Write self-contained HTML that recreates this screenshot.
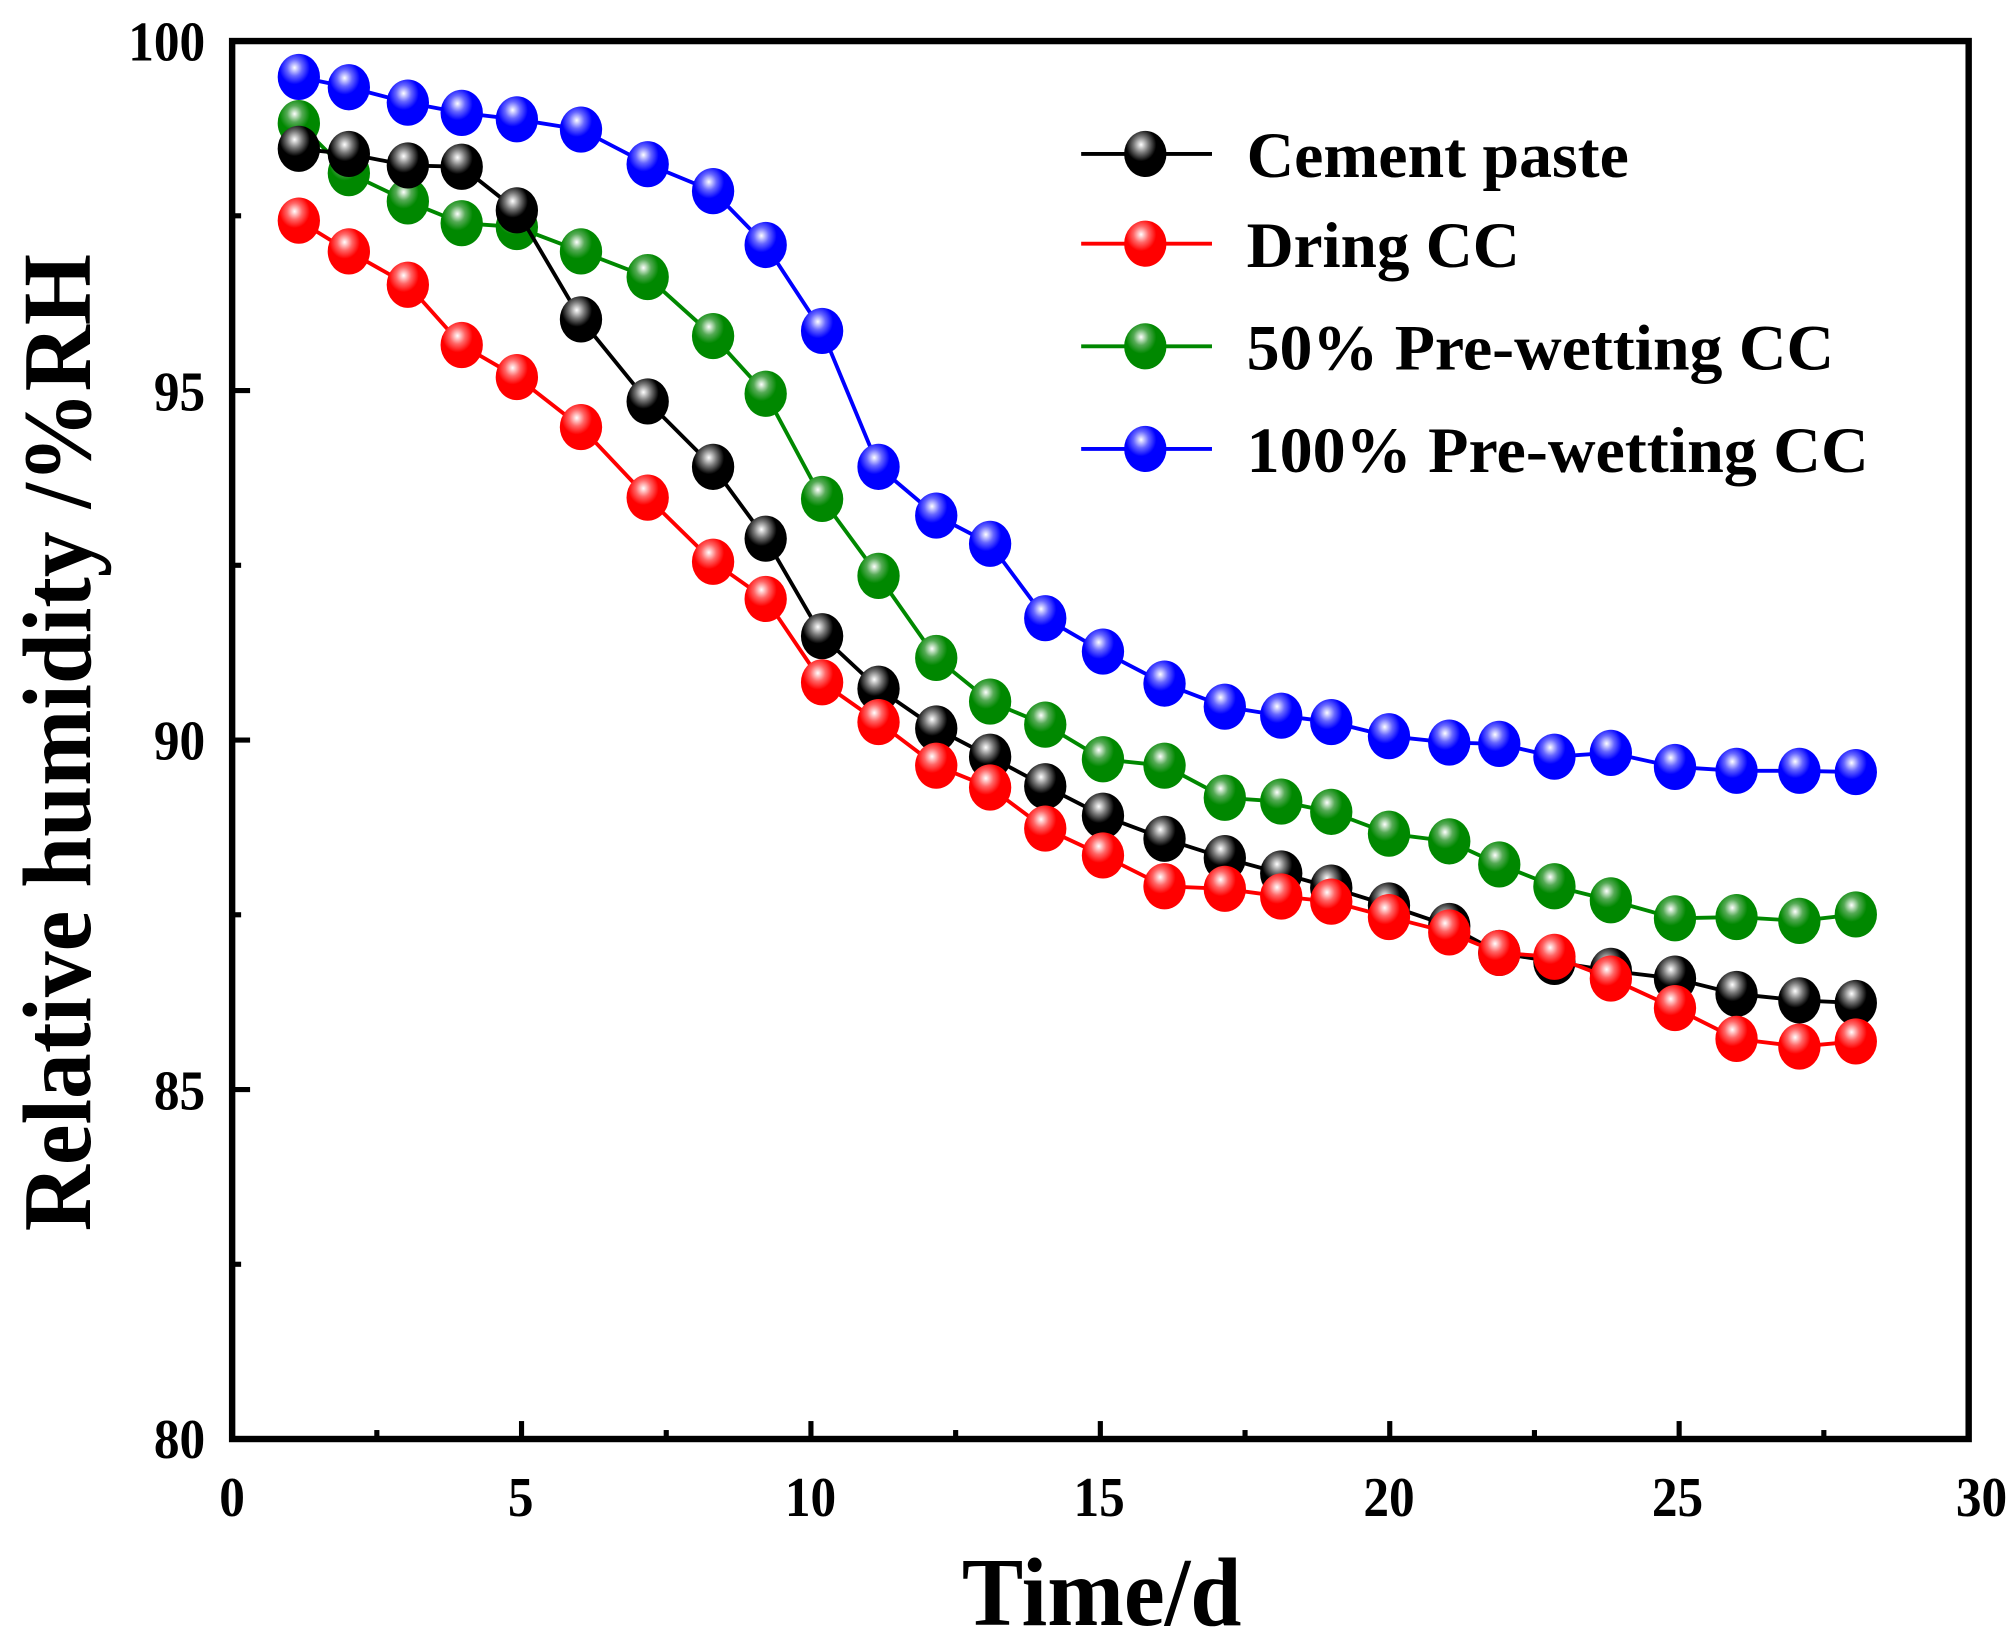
<!DOCTYPE html>
<html><head><meta charset="utf-8"><style>
html,body{margin:0;padding:0;background:#fff;}
svg{display:block;}
text{font-family:"Liberation Serif","Times New Roman",serif;font-weight:bold;fill:#000;}
</style></head><body>
<svg id="s" width="2011" height="1640" viewBox="0 0 1568 1278.7" xmlns="http://www.w3.org/2000/svg">
<defs>
<radialGradient id="gk" cx="0.4" cy="0.3" r="0.6"><stop offset="0" stop-color="#fff"/><stop offset="0.3" stop-color="#777"/><stop offset="0.6" stop-color="#000"/></radialGradient>
<radialGradient id="gr" cx="0.4" cy="0.3" r="0.6"><stop offset="0" stop-color="#fff"/><stop offset="0.3" stop-color="#f66"/><stop offset="0.6" stop-color="#f00"/></radialGradient>
<radialGradient id="gg" cx="0.4" cy="0.3" r="0.6"><stop offset="0" stop-color="#fff"/><stop offset="0.3" stop-color="#5a5"/><stop offset="0.6" stop-color="#080"/></radialGradient>
<radialGradient id="gb" cx="0.4" cy="0.3" r="0.6"><stop offset="0" stop-color="#fff"/><stop offset="0.3" stop-color="#66f"/><stop offset="0.6" stop-color="#00f"/></radialGradient>
</defs>
<g id="plot"></g>
<rect x="181" y="32" width="1354" height="1090" fill="none" stroke="#000" stroke-width="5"/>
<g id="ticks" stroke="#000" stroke-width="4"></g>
<g font-size="44" text-anchor="end">
<text x="160" y="47" textLength="60" lengthAdjust="spacingAndGlyphs">100</text>
<text x="160" y="320" textLength="40" lengthAdjust="spacingAndGlyphs">95</text>
<text x="160" y="592" textLength="40" lengthAdjust="spacingAndGlyphs">90</text>
<text x="160" y="865" textLength="40" lengthAdjust="spacingAndGlyphs">85</text>
<text x="160" y="1137" textLength="40" lengthAdjust="spacingAndGlyphs">80</text>
</g>
<g font-size="44" text-anchor="middle">
<text x="181" y="1182" textLength="20" lengthAdjust="spacingAndGlyphs">0</text>
<text x="406" y="1182" textLength="20" lengthAdjust="spacingAndGlyphs">5</text>
<text x="632" y="1182" textLength="40" lengthAdjust="spacingAndGlyphs">10</text>
<text x="857" y="1182" textLength="40" lengthAdjust="spacingAndGlyphs">15</text>
<text x="1083" y="1182" textLength="40" lengthAdjust="spacingAndGlyphs">20</text>
<text x="1308" y="1182" textLength="40" lengthAdjust="spacingAndGlyphs">25</text>
<text x="1545" y="1182" textLength="40" lengthAdjust="spacingAndGlyphs">30</text>
</g>
<text x="750" y="1267" font-size="76" textLength="218" lengthAdjust="spacingAndGlyphs">Time/d</text>
<text transform="translate(70,960) rotate(-90)" font-size="76" textLength="762" lengthAdjust="spacingAndGlyphs">Relative humidity /%RH</text>
<g font-size="50">
<text x="972" y="138" textLength="298" lengthAdjust="spacingAndGlyphs">Cement paste</text>
<text x="972" y="208" textLength="213" lengthAdjust="spacingAndGlyphs">Dring CC</text>
<text x="972" y="288" textLength="458" lengthAdjust="spacingAndGlyphs">50% Pre-wetting CC</text>
<text x="972" y="368" textLength="485" lengthAdjust="spacingAndGlyphs">100% Pre-wetting CC</text>
</g>
<g id="leg"></g>
</svg>
<script>
var NS="http://www.w3.org/2000/svg";
function el(p,t,a){var e=document.createElementNS(NS,t);for(var k in a)e.setAttribute(k,a[k]);p.appendChild(e);return e;}
var X=[233,272,318,360,403,453,505,556,597,641,685,730,772,815,860,908,955,999,1038,1083,1130,1169,1212,1256,1306,1354,1403,1447];
var S=[
 ["#000","gk",[116,120,129,130,164,249,313,364,420,496,537,568,590,613,636,654,669,681,692,706,722,743,750,757,763,775,780,782]],
 ["#f00","gr",[172,196,222,269,294,333,388,438,467,532,563,597,614,646,667,691,693,699,703,715,727,743,746,763,786,810,816,812]],
 ["#080","gg",[96,135,157,174,177,196,216,262,307,389,449,513,547,565,592,597,622,625,633,650,656,674,691,702,716,715,718,713]],
 ["#00f","gb",[60,68,80,88,93,101,128,149,191,258,364,402,424,482,508,533,551,558,563,574,579,580,590,587,598,601,601,602]]
];
var order=[3,2,0,1];
var plot=document.getElementById("plot");
order.forEach(function(i){var s=S[i];var pts=X.map(function(x,j){return x+","+s[2][j];}).join(" ");
 el(plot,"polyline",{points:pts,fill:"none",stroke:s[0],"stroke-width":3});
 X.forEach(function(x,j){el(plot,"ellipse",{cx:x,cy:s[2][j],rx:16.5,ry:18,fill:"url(#"+s[1]+")"});});
});
var leg=document.getElementById("leg"),LY=[120,190,270,350];
S.forEach(function(s,i){el(leg,"line",{x1:843,x2:945,y1:LY[i],y2:LY[i],stroke:s[0],"stroke-width":3});
 el(leg,"ellipse",{cx:893,cy:LY[i],rx:16.5,ry:18,fill:"url(#"+s[1]+")"});});
var tk=document.getElementById("ticks");
for(var v=0;v<=30;v+=2.5){var x=181+v*45.13;var maj=(v%5==0);el(tk,"line",{x1:x,x2:x,y1:1122,y2:1122-(maj?14:7)});}
for(var v=80;v<=100;v+=2.5){var y=1122-(v-80)*54.5;var maj=(v%5==0);el(tk,"line",{x1:181,x2:181+(maj?14:7),y1:y,y2:y});}
</script>
</body></html>
